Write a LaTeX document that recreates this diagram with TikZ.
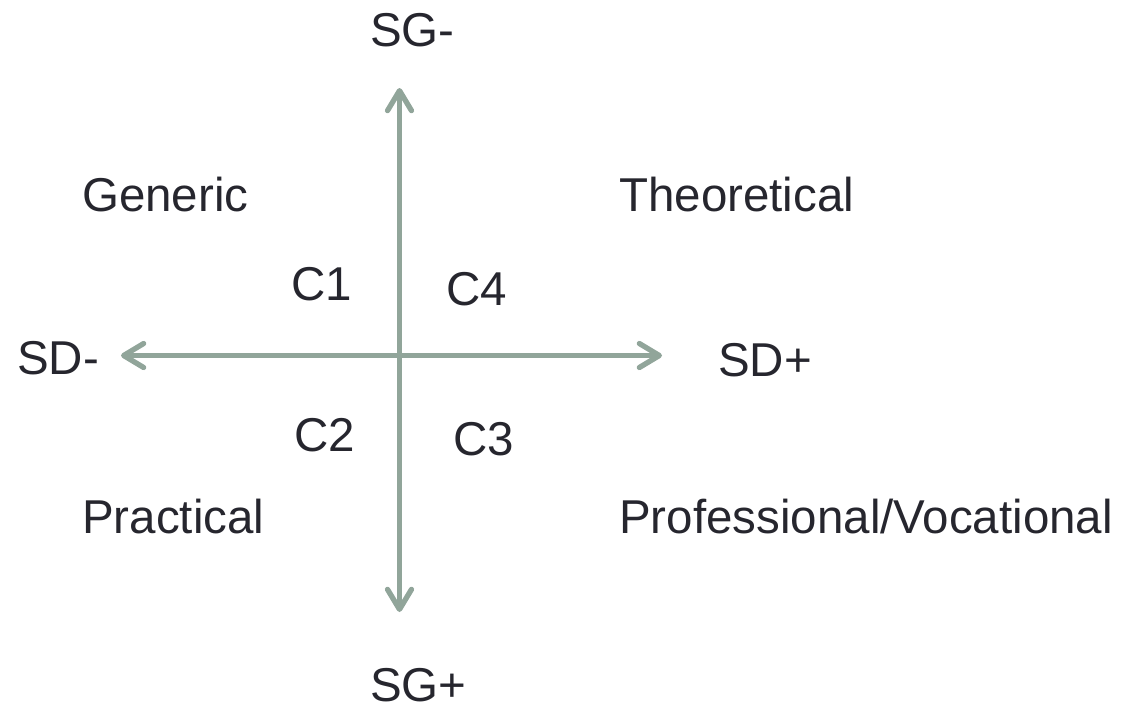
\documentclass[tikz,border=0pt]{standalone}
\usepackage{fontspec}
\setmainfont{Liberation Sans}
\usetikzlibrary{arrows.meta}
\definecolor{axisgreen}{RGB}{145,165,154}
\definecolor{labeltext}{RGB}{38,38,46}
\tikzset{
  axisline/.style={draw=axisgreen, line width=5.3pt,
    arrows={Straight Barb[length=20pt,width=24pt,line cap=round,line join=round]-Straight Barb[length=20pt,width=24pt,line cap=round,line join=round]}},
  lbl/.style={anchor=base west, inner sep=0pt, text=labeltext,
    font=\fontsize{47.5}{57}\selectfont}
}
\begin{document}
\begin{tikzpicture}[x=1pt,y=-1pt]
\useasboundingbox (0,0) rectangle (1128,713);
\coordinate (top) at (399.5,88);
\coordinate (bottom) at (399.5,612);
\coordinate (left) at (121,355.5);
\coordinate (right) at (662,355.5);
\draw[axisline] (top) -- (bottom);
\draw[axisline] (left) -- (right);
\node[lbl] (sgm) at (370,46) {SG-};
\node[lbl] (sgp) at (370,701) {SG+};
\node[lbl] (sdm) at (17,374) {SD-};
\node[lbl] (sdp) at (718,376) {SD+};
\node[lbl] (gen) at (82,211) {Generic};
\node[lbl] (theo) at (619,211) {Theoretical};
\node[lbl] (prac) at (82,533) {Practical};
\node[lbl] (prof) at (619,533) {Professional/Vocational};
\node[lbl] (c1) at (291,300) {C1};
\node[lbl] (c4) at (446,305) {C4};
\node[lbl] (c2) at (294,451) {C2};
\node[lbl] (c3) at (453,455) {C3};
\end{tikzpicture}
\end{document}
